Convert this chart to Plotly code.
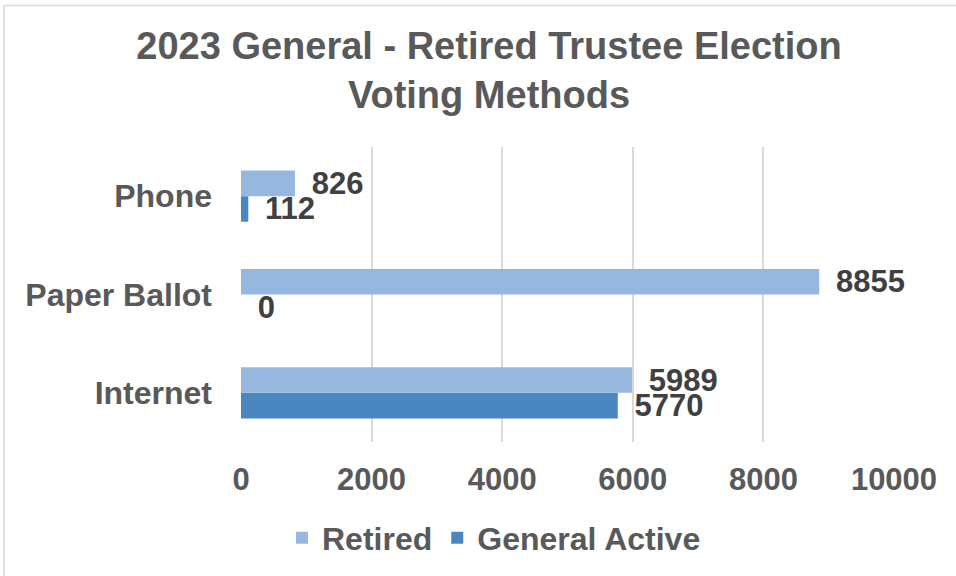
import plotly.graph_objects as go

categories = ["Phone", "Paper Ballot", "Internet"]
retired = [826, 8855, 5989]
general_active = [112, 0, 5770]
x_ticks = [0, 2000, 4000, 6000, 8000, 10000]

FONT = "Liberation Sans, Arial, sans-serif"
LABEL = "#404040"
AXIS_TXT = "#595959"
PAD = "\u00a0\u2006"  # small gap between bar end and its value label

fig = go.Figure()
fig.add_trace(go.Bar(
    name="General Active", y=categories, x=general_active, orientation="h",
    marker=dict(color="#4A86C0", line=dict(width=0)),
    text=[PAD + str(v) for v in general_active],
    textposition="outside", constraintext="none", cliponaxis=False,
    textfont=dict(family=FONT, size=31, color=LABEL, weight="bold"),
    legendrank=2,
))
fig.add_trace(go.Bar(
    name="Retired", y=categories, x=retired, orientation="h",
    marker=dict(color="#96B8DF", line=dict(width=0)),
    text=[PAD + str(v) for v in retired],
    textposition="outside", constraintext="none", cliponaxis=False,
    textfont=dict(family=FONT, size=31, color=LABEL, weight="bold"),
    legendrank=1,
))

fig.update_layout(
    width=956, height=576,
    margin=dict(l=241, r=62, t=147, b=133),
    paper_bgcolor="white", plot_bgcolor="white",
    barmode="group", bargap=0.48, bargroupgap=0,
    font=dict(family=FONT, color=AXIS_TXT),
    title=dict(
        text="2023 General - Retired Trustee Election<br>Voting Methods",
        x=489 / 956, xanchor="center", y=1 - 59 / 576, yanchor="middle",
        font=dict(family=FONT, size=38, color=AXIS_TXT, weight="bold"),
    ),
    xaxis=dict(
        range=[0, 10000], tickvals=x_ticks, ticktext=[str(v) for v in x_ticks],
        showgrid=True, gridcolor="#D9D9D9", gridwidth=1.5, zeroline=False,
        showline=False, ticks="",
        tickfont=dict(family=FONT, size=31, color=AXIS_TXT, weight="bold"),
        ticklabelstandoff=16,
    ),
    yaxis=dict(
        categoryorder="array", categoryarray=categories[::-1],
        showgrid=False, zeroline=False, showline=False, ticks="",
        tickfont=dict(family=FONT, size=32, color=AXIS_TXT, weight="bold"),
        ticklabelstandoff=28,
    ),
    legend=dict(
        orientation="h", x=(494 - 241) / 653, xanchor="center",
        y=-95 / 296, yanchor="middle",
        font=dict(family=FONT, size=32, color=AXIS_TXT, weight="bold"),
        itemwidth=30,
    ),
    shapes=[
        dict(type="line", xref="paper", yref="paper",
             x0=(4 - 241) / 653, x1=(960 - 241) / 653,
             y0=(443 - 5) / 296, y1=(443 - 5) / 296,
             line=dict(color="#D9D9D9", width=1.5)),
        dict(type="line", xref="paper", yref="paper",
             x0=(4 - 241) / 653, x1=(4 - 241) / 653,
             y0=(443 - 5) / 296, y1=(443 - 580) / 296,
             line=dict(color="#D9D9D9", width=1.5)),
    ],
)

fig.write_html("out.html")
